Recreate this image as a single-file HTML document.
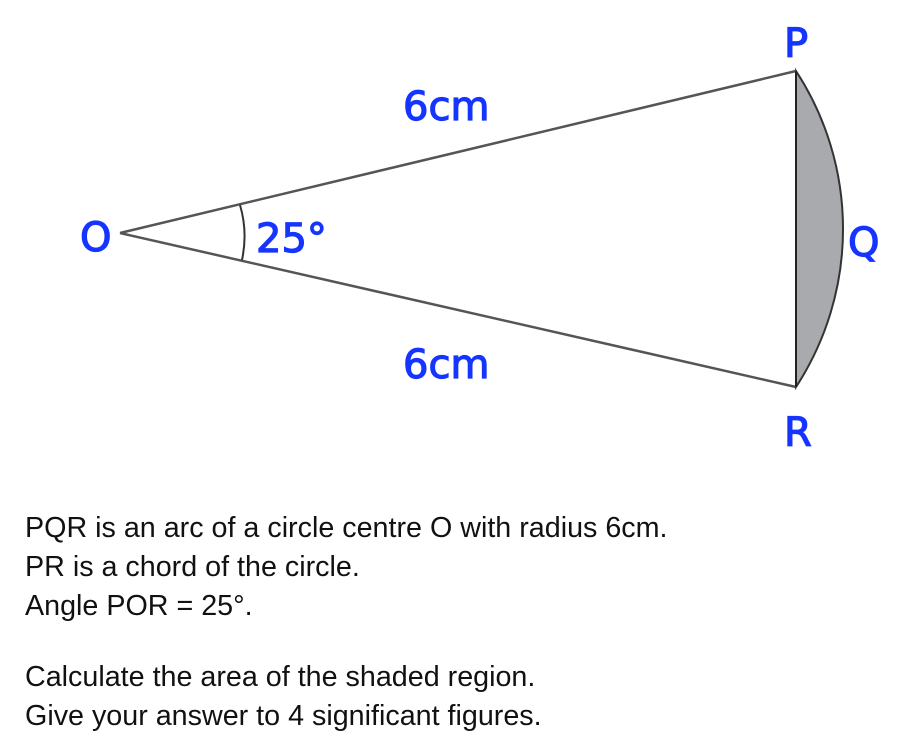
<!DOCTYPE html>
<html><head><style>
body{margin:0;background:#fff;width:910px;height:752px;overflow:hidden;position:relative;font-family:"Liberation Sans",Arial,sans-serif}
.t{position:absolute;left:25px;font-size:28.7px;color:#111;white-space:nowrap;line-height:1}
</style></head><body>
<svg width="910" height="752" style="position:absolute;left:0;top:0">
<path d="M796 71 A289 289 0 0 1 796 387 Z" fill="#a9aaad" stroke="#333" stroke-width="2"/>
<line x1="120" y1="233" x2="796" y2="71" stroke="#555" stroke-width="2.5"/>
<line x1="120" y1="233" x2="796" y2="387" stroke="#555" stroke-width="2.5"/>
<line x1="796" y1="71" x2="796" y2="387" stroke="#222" stroke-width="2"/>
<path d="M240 205 Q248 232 242 260" fill="none" stroke="#333" stroke-width="2"/>
<g fill="#1535ff" stroke="#1535ff" stroke-width="1.2" font-family="'DejaVu Sans',sans-serif" font-size="40">
<text x="80" y="251">O</text>
<text x="256" y="252">25°</text>
<text x="403" y="120">6cm</text>
<text x="403" y="378">6cm</text>
<text x="784" y="57">P</text>
<text x="848" y="256">Q</text>
<text x="784" y="446">R</text>
</g>
</svg>
<div class="t" style="top:514px">PQR is an arc of a circle centre O with radius 6cm.</div>
<div class="t" style="top:553px">PR is a chord of the circle.</div>
<div class="t" style="top:592px">Angle POR = 25°.</div>
<div class="t" style="top:663px">Calculate the area of the shaded region.</div>
<div class="t" style="top:702px">Give your answer to 4 significant figures.</div>
</body></html>
